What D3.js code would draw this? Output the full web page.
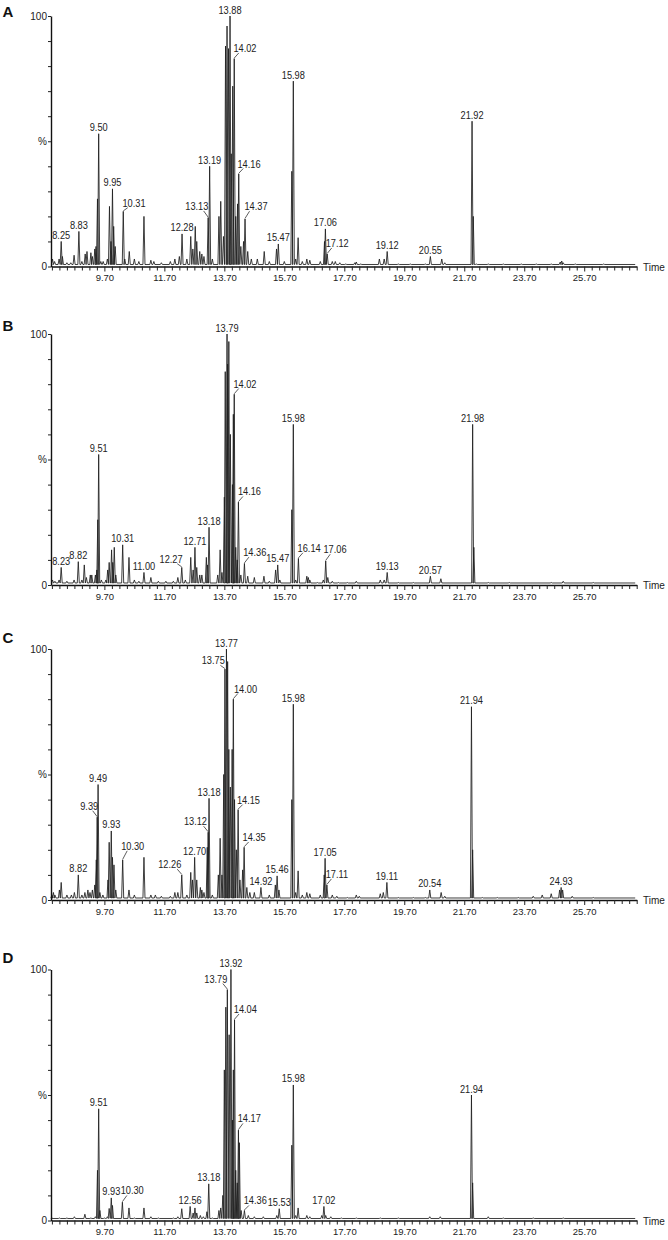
<!DOCTYPE html>
<html>
<head>
<meta charset="utf-8">
<script src="https://cdn.jsdelivr.net/npm/d3@7"></script>
<style>
  body { margin: 0; background: #fff; }
  svg { display: block; font-family: "Liberation Sans", Arial, sans-serif; }
</style>
</head>
<body>
<div id="chart"></div>
<script>
// ---- Data (retention time in min, relative abundance in %) ----
const timeTicks = ["9.70", "11.70", "13.70", "15.70", "17.70", "19.70", "21.70", "23.70", "25.70"];
const panelLetters = ["A", "B", "C", "D"];

const peaksA = [[7.97,3],[8.04,2],[8.19,3],[8.26,10],[8.30,4],[8.45,1.5],[8.58,1.5],[8.69,4.5],[8.85,14],[8.95,2],
  [9.06,5],[9.12,6],[9.25,5.5],[9.30,4],[9.38,7],[9.42,8],[9.47,27],[9.51,53],[9.58,2],[9.66,2],[9.80,3],[9.87,24],
  [9.92,10],[9.97,31],[10.01,16],[10.06,8],[10.33,22],[10.38,3],[10.53,6],[10.70,3],[10.85,2],[11.02,20],[11.25,2.5],
  [11.35,2],[11.60,1.5],[11.90,2],[12.05,3],[12.20,4],[12.29,13],[12.45,3],[12.58,12],[12.65,7],[12.73,16],[12.78,10],
  [12.88,6],[12.95,5],[13.02,4],[13.16,19.5],[13.21,40],[13.30,3],[13.52,20],[13.58,26],[13.67,12],[13.74,88],[13.79,96],
  [13.84,87],[13.89,100],[13.93,45],[13.98,72],[14.03,83],[14.08,20],[14.14,25],[14.18,37],[14.25,8],[14.34,10],[14.39,19],
  [14.48,6],[14.60,3],[14.80,3],[15.03,6],[15.20,2],[15.44,7],[15.50,9],[15.70,2],[15.95,38],[16.00,74],[16.08,3],
  [16.16,11.5],[16.30,2],[16.45,3],[16.55,2.5],[16.90,2],[17.04,10],[17.07,15],[17.13,5],[17.30,2],[17.40,2],[17.55,1.5],
  [17.75,1],[18.05,1.5],[18.10,1.8],[18.25,1],[18.87,3],[19.03,3],[19.13,6],[19.50,1],[19.90,1],[20.40,1],[20.57,4],
  [20.95,3],[21.05,1.5],[21.96,58],[22.00,20],[22.10,1],[22.50,1],[23.00,1],[23.60,1],[24.10,1],[24.60,1],[24.90,1.8],
  [24.95,2.2],[25.00,1.5],[25.40,1],[26.35,1]];
const labelsA = [["8.25",8.26],["8.83",8.85],["9.50",9.51],["9.95",9.97],["10.31",10.33],["12.28",12.29],["13.13",13.16],
  ["13.19",13.21],["13.88",13.89],["14.02",14.03],["14.16",14.18],["14.37",14.39],["15.47",15.50],["15.98",16.00],
  ["17.06",17.07],["17.12",17.13],["19.12",19.13],["20.55",20.57],["21.92",21.96]];

const peaksB = [[7.97,2],[8.05,1.5],[8.19,2],[8.26,7],[8.45,1.5],[8.69,2],[8.83,9.3],[8.95,2],[9.03,8],[9.10,3],
  [9.23,4],[9.28,4],[9.40,4],[9.45,6],[9.48,26],[9.51,52],[9.60,2],[9.75,2],[9.81,6],[9.86,9],[9.94,14],[9.98,9],
  [10.03,15],[10.08,4],[10.31,16],[10.52,11],[10.70,2],[10.85,1.5],[11.02,5],[11.25,3],[11.50,1.5],[11.75,1.5],[12.00,1.5],
  [12.15,3],[12.28,7],[12.40,2],[12.58,11],[12.66,6],[12.72,15],[12.78,7],[12.88,4],[12.95,4],[13.10,11],[13.14,8],
  [13.19,23],[13.48,4],[13.56,14],[13.62,5],[13.70,35],[13.73,85],[13.79,100],[13.81,88],[13.85,97],[13.90,60],[13.97,40],
  [14.00,68],[14.03,76],[14.08,15],[14.13,10],[14.17,33],[14.25,4],[14.37,8.6],[14.48,3.5],[14.70,3],[15.02,3.5],
  [15.20,1.5],[15.41,6],[15.48,8],[15.55,2],[15.95,30],[16.00,64],[16.08,2],[16.17,10.6],[16.45,3.5],[16.50,3],[16.55,2],
  [16.80,1],[17.00,2],[17.08,9.6],[17.15,3],[17.30,1.5],[17.50,1],[17.80,1],[18.10,1.5],[18.90,2],[19.03,2],[19.13,5],
  [19.50,1],[20.00,1],[20.57,3.5],[20.92,2.5],[21.98,64],[22.02,15],[22.50,1],[23.20,1],[24.60,1],[25.00,1.5],[26.00,1]];
const labelsB = [["8.23",8.26],["8.82",8.83],["9.51",9.51],["10.31",10.31],["11.00",11.02],["12.27",12.28],["12.71",12.72],
  ["13.18",13.19],["13.79",13.79],["14.02",14.03],["14.16",14.17],["14.36",14.37],["15.47",15.48],["15.98",16.00],
  ["16.14",16.17],["17.06",17.08],["19.13",19.13],["20.57",20.57],["21.98",21.98]];

const peaksC = [[7.95,2],[8.00,3],[8.05,2],[8.20,4],[8.26,7],[8.45,2],[8.60,2],[8.70,3],[8.83,10],[8.95,2],[9.05,3],
  [9.15,4],[9.22,3],[9.30,4],[9.38,6],[9.43,16],[9.46,33],[9.49,46],[9.55,3],[9.65,2],[9.82,8],[9.86,23],[9.93,27.5],
  [9.97,17],[10.02,14],[10.08,4],[10.31,16],[10.52,4],[10.70,2],[11.02,17],[11.25,2],[11.40,2],[11.60,1.5],[11.90,1.5],
  [12.05,3],[12.15,3],[12.28,10],[12.45,2],[12.58,11],[12.64,8],[12.71,17],[12.78,8],[12.90,5],[12.95,4],[13.02,3],
  [13.13,21],[13.16,27],[13.19,40.5],[13.30,2],[13.50,10],[13.56,24.6],[13.62,10],[13.68,50],[13.72,92],[13.77,100],
  [13.81,95],[13.85,60],[13.90,45],[13.96,60],[14.00,80],[14.04,40],[14.10,20],[14.16,36],[14.22,8],[14.31,12],[14.36,21],
  [14.45,5],[14.55,3],[14.70,3],[14.92,5],[15.20,2],[15.40,6],[15.46,9.6],[15.52,4],[15.95,40],[16.00,78],[16.08,3],
  [16.16,11.6],[16.30,2],[16.45,3],[16.55,2.5],[16.90,2],[17.03,10],[17.06,16.6],[17.12,6],[17.30,2],[17.45,1.5],[17.80,1],
  [18.10,2],[18.20,1.5],[18.90,2.5],[19.00,3],[19.12,7],[19.50,1],[20.00,1],[20.40,1],[20.55,4],[20.93,3],[21.05,1.5],
  [21.94,77],[21.98,20],[22.30,1],[22.80,1],[23.50,1],[24.00,1.5],[24.30,2],[24.60,2.5],[24.88,4],[24.93,5],[24.98,4],
  [25.30,1.5],[26.00,1]];
const labelsC = [["8.82",8.83],["9.39",9.46],["9.49",9.49],["9.93",9.93],["10.30",10.31],["12.26",12.28],["12.70",12.71],
  ["13.12",13.16],["13.18",13.19],["13.75",13.72],["13.77",13.77],["14.00",14.00],["14.15",14.16],["14.35",14.36],
  ["14.92",14.92],["15.46",15.46],["15.98",16.00],["17.05",17.06],["17.11",17.12],["19.11",19.12],["20.54",20.55],
  ["21.94",21.94],["24.93",24.93]];

const peaksD = [[7.95,1],[8.20,1],[8.45,1],[8.70,1.5],[9.05,2.5],[9.25,1],[9.40,1.5],[9.47,20],[9.51,44.5],[9.55,4],
  [9.70,1],[9.80,1.5],[9.86,4.8],[9.93,9],[9.97,6],[10.30,7.3],[10.52,5],[10.70,1],[11.02,5],[11.25,1.5],[11.50,1],
  [12.00,1],[12.15,1.5],[12.28,4.7],[12.56,5.6],[12.66,3],[12.72,5],[12.78,3],[12.90,2],[13.00,1.5],[13.12,3.5],
  [13.18,14.6],[13.30,1],[13.52,4],[13.58,5],[13.65,10],[13.70,60],[13.75,85],[13.80,92],[13.86,74],[13.92,100],
  [13.97,40],[14.00,60],[14.04,80],[14.08,20],[14.13,15],[14.17,36],[14.20,31],[14.26,4],[14.37,4],[14.50,2],[14.70,1.5],
  [15.00,1.5],[15.45,2],[15.53,4.7],[15.95,30],[16.00,54],[16.08,2],[16.16,5],[16.45,2],[16.55,1.5],[16.95,2],[17.02,5.6],
  [17.08,2],[17.25,1.5],[17.60,1],[18.10,1],[18.90,1],[19.50,1],[20.55,1.5],[20.90,1.5],[21.94,50],[21.98,15],[22.50,1.5],
  [23.00,1],[24.00,1],[25.00,1]];
const labelsD = [["9.51",9.51],["9.93",9.93],["10.30",10.30],["12.56",12.56],["13.18",13.18],["13.79",13.80],
  ["13.92",13.92],["14.04",14.04],["14.17",14.17],["14.36",14.37],["15.53",15.53],["15.98",16.00],["17.02",17.02],
  ["21.94",21.94]];

// ---- Layout ----
const W = 668, H = 1240;
const panelTop = [16, 334, 649, 969.5];
const panelZero = [266.5, 585, 900, 1220.5];
const letterY = [16.5, 331, 643, 963];
// label offset from peak apex [dx, dy] for labels drawn with a leader line
const leaders = [
  {"10.31":[10.7,-4.7],"13.13":[-11.3,-7.7],"14.02":[10.7,-6.6],"14.16":[10.3,-6.3],"14.37":[11,-8.7],"17.12":[10,-7]},
  {"12.27":[-10.7,-4.7],"14.02":[10.7,-6.7],"14.16":[11,-6.7],"14.36":[10.3,-7.3],"16.14":[10.7,-6.6],"17.06":[9.3,-7.7]},
  {"9.39":[-8,-7.4],"10.30":[10,-10],"12.26":[-12,-6.7],"13.12":[-12.7,-7],"13.75":[-11.7,-4.7],"14.00":[12.2,-6.7],
   "14.15":[10.3,-6],"14.35":[10,-6.3],"17.11":[10,-7]},
  {"10.30":[9.8,-7.7],"13.79":[-11.5,-7],"14.04":[10.8,-6.7],"14.17":[10.8,-7.7],"14.36":[10.8,-6]}
];
const halfWidth = 0.034; // peak half width, min
const baseLevel = 0.8;   // trace baseline, %

const svg = d3.select("#chart").append("svg")
  .attr("width", W).attr("height", H);

const x = d3.scaleLinear().domain([7.92, 27.45]).range([51, 636.7]);
const minorTicks = d3.range(0, 79).map(i => +(7.95 + i * 0.25).toFixed(2));

const panels = [[peaksA, labelsA], [peaksB, labelsB], [peaksC, labelsC], [peaksD, labelsD]];

panels.forEach(([peaks, labels], p) => {
  const y = d3.scaleLinear().domain([0, 100]).range([panelZero[p], panelTop[p]]);
  const g = svg.append("g");

  // panel letter
  g.append("text")
    .attr("x", 2.5).attr("y", letterY[p])
    .attr("font-size", 15).attr("font-weight", "bold").attr("fill", "#111")
    .text(panelLetters[p]);

  // trace
  const sorted = peaks.slice().sort((a, b) => a[0] - b[0]);
  const pts = [[x.domain()[0] + 0.05, baseLevel]];
  sorted.forEach(d => {
    pts.push([d[0] - halfWidth, baseLevel], [d[0], d[1]], [d[0] + halfWidth, baseLevel]);
  });
  pts.push([x.domain()[1] - 0.05, baseLevel]);
  const line = d3.line().x(d => x(d[0])).y(d => y(d[1]));
  g.append("path")
    .attr("d", line(pts))
    .attr("fill", "none")
    .attr("stroke", "#1e1e1e")
    .attr("stroke-width", 0.85)
    .attr("stroke-linejoin", "miter");

  // y axis
  const yAxis = g.append("g")
    .attr("transform", `translate(${x.range()[0]},0)`)
    .call(d3.axisLeft(y).tickValues(d3.range(0, 101, 10)).tickSize(3).tickSizeOuter(0).tickPadding(1)
      .tickFormat(v => v === 100 ? "100" : v === 50 ? "%" : v === 0 ? "0" : ""));
  yAxis.select(".domain").attr("stroke", "#111").attr("stroke-width", 1.4);
  yAxis.selectAll(".tick line").attr("stroke", "#222");
  yAxis.selectAll("text").attr("font-size", 10).attr("fill", "#222")
    .attr("font-family", "Liberation Sans, Arial, sans-serif");

  // x axis
  const xAxis = g.append("g")
    .attr("transform", `translate(0,${panelZero[p]})`)
    .call(d3.axisBottom(x).tickValues(minorTicks).tickSize(4).tickSizeOuter(0).tickPadding(4)
      .tickFormat(t => timeTicks.find(s => Math.abs(+s - t) < 0.01) || ""));
  xAxis.select(".domain").attr("stroke", "#111").attr("stroke-width", 1.4);
  xAxis.selectAll(".tick line").attr("stroke", "#222")
    .attr("y2", t => timeTicks.some(s => Math.abs(+s - t) < 0.01) ? 5 : 4);
  xAxis.selectAll("text").attr("font-size", 9.5).attr("fill", "#222")
    .attr("font-family", "Liberation Sans, Arial, sans-serif");

  g.append("text")
    .attr("x", 643).attr("y", panelZero[p] + 4)
    .attr("font-size", 10).attr("fill", "#222")
    .text("Time");

  // peak labels
  labels.forEach(([txt, t]) => {
    const pk = sorted.find(d => Math.abs(d[0] - t) < 0.001);
    const px = x(t), py = y(pk[1]);
    const off = leaders[p][txt];
    let lx = px, ly = py - 2.5;
    if (off) {
      lx = px + off[0];
      ly = py + off[1];
      const ex = px + (off[0] > 0 ? 4.5 : -4.5);
      g.append("line")
        .attr("x1", px).attr("y1", py - 0.5)
        .attr("x2", ex).attr("y2", ly + 1)
        .attr("stroke", "#333").attr("stroke-width", 0.8);
    }
    g.append("text")
      .attr("transform", `translate(${lx},${ly}) scale(0.88,1)`)
      .attr("text-anchor", "middle")
      .attr("font-size", 10.5).attr("fill", "#222")
      .text(txt);
  });
});
</script>
</body>
</html>
